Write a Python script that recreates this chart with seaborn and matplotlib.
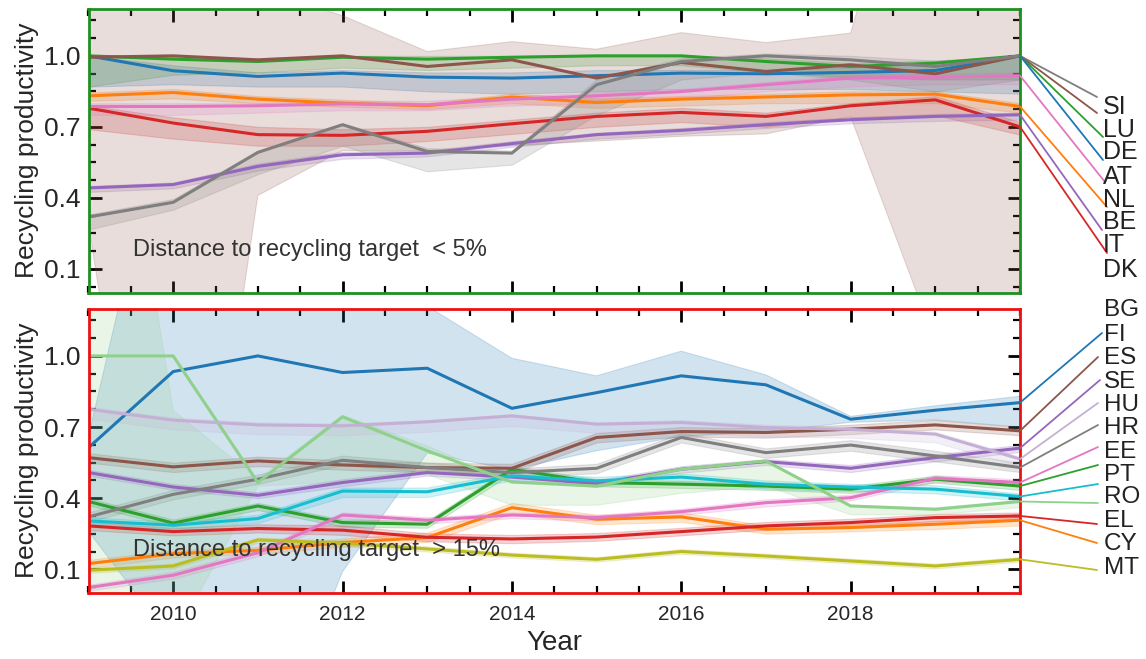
import numpy as np
import pandas as pd
import matplotlib
matplotlib.use("Agg")
import matplotlib.pyplot as plt
from matplotlib.ticker import FixedLocator, MultipleLocator
import seaborn as sns

years = list(range(2009, 2021))

# ---------------- top panel (distance < 5%) ----------------
top_countries = ["AT", "BE", "DE", "DK", "IT", "LU", "NL", "SI"]
top_colors = ["#1f77b4", "#ff7f0e", "#2ca02c", "#d62728", "#9467bd", "#8c564b", "#e377c2", "#7f7f7f"]

AT = [1.0, 0.937, 0.913, 0.927, 0.910, 0.906, 0.916, 0.927, 0.924, 0.930, 0.938, 1.0]
BE = [0.831, 0.845, 0.817, 0.800, 0.789, 0.826, 0.803, 0.817, 0.826, 0.835, 0.838, 0.786]
DE = [1.0, 0.986, 0.976, 0.994, 0.986, 0.994, 1.0, 1.0, 0.976, 0.955, 0.969, 1.0]
DK = [0.779, 0.716, 0.667, 0.664, 0.681, 0.713, 0.744, 0.761, 0.744, 0.789, 0.814, 0.700]
IT = [0.442, 0.456, 0.533, 0.582, 0.589, 0.629, 0.667, 0.685, 0.709, 0.730, 0.744, 0.751]
LU = [0.994, 1.0, 0.983, 1.0, 0.955, 0.983, 0.906, 0.972, 0.934, 0.962, 0.924, 1.0]
NL = [0.786, 0.786, 0.789, 0.797, 0.793, 0.817, 0.831, 0.849, 0.878, 0.906, 0.910, 0.916]
SI = [0.319, 0.381, 0.592, 0.709, 0.596, 0.589, 0.878, 0.976, 1.0, 0.983, 0.955, 1.0]

AT_lo = [0.87, 0.88, 0.87, 0.87, 0.85, 0.84, 0.85, 0.86, 0.86, 0.86, 0.85, 0.84]
AT_hi = [1.0, 0.96, 0.93, 0.94, 0.93, 0.93, 0.94, 0.94, 0.94, 0.95, 0.96, 1.0]
BE_lo = [0.81, 0.82, 0.80, 0.785, 0.775, 0.80, 0.78, 0.79, 0.80, 0.80, 0.80, 0.76]
BE_hi = [0.845, 0.86, 0.83, 0.815, 0.80, 0.84, 0.82, 0.83, 0.84, 0.85, 0.85, 0.80]
DE_lo = [0.87, 0.92, 0.93, 0.95, 0.94, 0.95, 0.96, 0.96, 0.93, 0.91, 0.90, 0.90]
DE_hi = [1.0, 1.0, 0.99, 1.0, 1.0, 1.0, 1.0, 1.0, 0.99, 0.97, 0.98, 1.0]
DK_lo = [0.69, 0.65, 0.62, 0.62, 0.64, 0.67, 0.70, 0.72, 0.70, 0.74, 0.75, 0.667]
DK_hi = [0.79, 0.74, 0.70, 0.69, 0.70, 0.73, 0.76, 0.78, 0.76, 0.80, 0.83, 0.72]
IT_lo = [0.425, 0.44, 0.515, 0.565, 0.575, 0.615, 0.65, 0.67, 0.695, 0.715, 0.725, 0.73]
IT_hi = [0.45, 0.465, 0.545, 0.595, 0.60, 0.64, 0.675, 0.695, 0.72, 0.74, 0.755, 0.76]
LU_lo = [0.29, -2.0, 0.41, 0.60, 0.60, 0.62, 0.64, 0.66, 0.67, 0.743, -0.21, -0.3]
LU_hi = [2.0, 2.5, 1.28, 1.17, 1.018, 1.06, 1.028, 1.098, 1.056, 1.096, 2.35, 2.0]
NL_lo = [0.75, 0.75, 0.76, 0.77, 0.77, 0.79, 0.80, 0.82, 0.85, 0.87, 0.88, 0.88]
NL_hi = [0.80, 0.80, 0.80, 0.81, 0.81, 0.83, 0.845, 0.86, 0.89, 0.92, 0.925, 0.93]
SI_lo = [0.266, 0.35, 0.50, 0.62, 0.512, 0.54, 0.75, 0.90, 0.93, 0.90, 0.85, 0.90]
SI_hi = [0.33, 0.395, 0.60, 0.715, 0.61, 0.60, 0.90, 0.99, 1.01, 1.0, 0.98, 1.0]

top_labels = ["SI", "LU", "DE", "AT", "NL", "BE", "IT", "DK"]

# ---------------- bottom panel (distance > 15%) ----------------
bot_countries = ["BG", "CY", "EE", "EL", "ES", "FI", "HR", "HU", "MT", "PT", "RO", "SE"]
bot_colors = ["#1f77b4", "#ff7f0e", "#2ca02c", "#d62728", "#9467bd", "#8c564b",
              "#e377c2", "#7f7f7f", "#bcbd22", "#17becf", "#8fd18a", "#c5b0d5"]

BG = [0.613, 0.934, 1.0, 0.930, 0.948, 0.779, 0.845, 0.916, 0.878, 0.733, 0.771, 0.803]
CY = [0.124, 0.166, 0.180, 0.213, 0.234, 0.360, 0.311, 0.321, 0.269, 0.276, 0.290, 0.307]
EE = [0.386, 0.295, 0.367, 0.297, 0.290, 0.522, 0.466, 0.459, 0.451, 0.438, 0.480, 0.451]
EL = [0.283, 0.259, 0.272, 0.265, 0.235, 0.228, 0.236, 0.259, 0.283, 0.297, 0.318, 0.325]
ES = [0.508, 0.447, 0.412, 0.466, 0.508, 0.489, 0.461, 0.522, 0.554, 0.526, 0.571, 0.611]
FI = [0.571, 0.532, 0.557, 0.540, 0.529, 0.526, 0.656, 0.681, 0.677, 0.691, 0.709, 0.684]
HR = [0.023, 0.075, 0.170, 0.329, 0.307, 0.329, 0.318, 0.343, 0.381, 0.402, 0.484, 0.466]
HU = [0.321, 0.416, 0.480, 0.560, 0.529, 0.508, 0.526, 0.656, 0.592, 0.624, 0.578, 0.529]
MT = [0.096, 0.114, 0.224, 0.210, 0.186, 0.160, 0.142, 0.175, 0.156, 0.135, 0.114, 0.142]
PT = [0.304, 0.286, 0.314, 0.430, 0.427, 0.494, 0.473, 0.489, 0.459, 0.447, 0.438, 0.407]
RO = [1.0, 1.0, 0.466, 0.743, 0.600, 0.468, 0.451, 0.522, 0.557, 0.367, 0.353, 0.386]
SE = [0.775, 0.729, 0.709, 0.705, 0.722, 0.747, 0.712, 0.719, 0.698, 0.690, 0.670, 0.565]

BG_lo = [0.26, -0.21, -0.8, 0.09, 0.59, 0.52, 0.60, 0.66, 0.68, 0.72, 0.73, 0.70]
BG_hi = [0.66, 2.2, 1.6, 1.45, 1.21, 0.99, 0.916, 1.02, 0.92, 0.745, 0.79, 0.83]
CY_lo = [0.105, 0.15, 0.165, 0.195, 0.215, 0.335, 0.29, 0.30, 0.25, 0.26, 0.27, 0.285]
CY_hi = [0.14, 0.18, 0.195, 0.23, 0.255, 0.38, 0.33, 0.34, 0.285, 0.29, 0.305, 0.32]
EE_lo = [0.37, 0.28, 0.35, 0.28, 0.275, 0.505, 0.45, 0.443, 0.435, 0.422, 0.465, 0.435]
EE_hi = [0.40, 0.31, 0.38, 0.31, 0.305, 0.535, 0.48, 0.473, 0.465, 0.452, 0.495, 0.465]
EL_lo = [0.265, 0.243, 0.255, 0.245, 0.218, 0.21, 0.22, 0.243, 0.267, 0.28, 0.302, 0.31]
EL_hi = [0.30, 0.275, 0.29, 0.285, 0.252, 0.245, 0.253, 0.275, 0.30, 0.313, 0.333, 0.34]
ES_lo = [0.495, 0.435, 0.40, 0.45, 0.495, 0.475, 0.447, 0.507, 0.54, 0.51, 0.555, 0.595]
ES_hi = [0.52, 0.46, 0.425, 0.48, 0.522, 0.50, 0.475, 0.535, 0.565, 0.54, 0.585, 0.625]
FI_lo = [0.55, 0.51, 0.535, 0.52, 0.51, 0.505, 0.635, 0.66, 0.655, 0.67, 0.69, 0.665]
FI_hi = [0.59, 0.55, 0.575, 0.56, 0.55, 0.545, 0.675, 0.70, 0.695, 0.71, 0.73, 0.70]
HR_lo = [0.01, 0.06, 0.155, 0.315, 0.293, 0.315, 0.305, 0.33, 0.365, 0.39, 0.47, 0.452]
HR_hi = [0.035, 0.09, 0.185, 0.34, 0.32, 0.34, 0.33, 0.355, 0.395, 0.415, 0.497, 0.48]
HU_lo = [0.30, 0.395, 0.46, 0.54, 0.51, 0.49, 0.505, 0.635, 0.57, 0.60, 0.555, 0.51]
HU_hi = [0.34, 0.435, 0.50, 0.58, 0.55, 0.525, 0.545, 0.675, 0.61, 0.645, 0.60, 0.55]
MT_lo = [0.085, 0.104, 0.212, 0.198, 0.175, 0.15, 0.132, 0.165, 0.146, 0.125, 0.104, 0.132]
MT_hi = [0.106, 0.124, 0.234, 0.222, 0.197, 0.17, 0.152, 0.185, 0.166, 0.145, 0.124, 0.152]
PT_lo = [0.285, 0.27, 0.295, 0.405, 0.405, 0.475, 0.455, 0.47, 0.44, 0.43, 0.42, 0.39]
PT_hi = [0.32, 0.30, 0.33, 0.445, 0.445, 0.51, 0.49, 0.505, 0.475, 0.46, 0.455, 0.42]
RO_lo = [-1.0, -0.2, 0.45, 0.47, 0.50, 0.37, 0.37, 0.42, 0.45, 0.33, 0.33, 0.36]
RO_hi = [3.0, 0.77, 0.48, 0.75, 0.62, 0.47, 0.46, 0.53, 0.56, 0.37, 0.36, 0.39]
SE_lo = [0.735, 0.69, 0.67, 0.665, 0.68, 0.705, 0.675, 0.68, 0.66, 0.655, 0.635, 0.535]
SE_hi = [0.785, 0.74, 0.72, 0.715, 0.73, 0.755, 0.72, 0.73, 0.71, 0.70, 0.68, 0.575]

bot_labels = ["BG", "FI", "ES", "SE", "HU", "HR", "EE", "PT", "RO", "EL", "CY", "MT"]

top_vals = {"AT": AT, "BE": BE, "DE": DE, "DK": DK, "IT": IT, "LU": LU, "NL": NL, "SI": SI}
top_band = {"AT": (AT_lo, AT_hi), "BE": (BE_lo, BE_hi), "DE": (DE_lo, DE_hi), "DK": (DK_lo, DK_hi),
            "IT": (IT_lo, IT_hi), "LU": (LU_lo, LU_hi), "NL": (NL_lo, NL_hi), "SI": (SI_lo, SI_hi)}
bot_vals = {"BG": BG, "CY": CY, "EE": EE, "EL": EL, "ES": ES, "FI": FI, "HR": HR, "HU": HU,
            "MT": MT, "PT": PT, "RO": RO, "SE": SE}
bot_band = {"BG": (BG_lo, BG_hi), "CY": (CY_lo, CY_hi), "EE": (EE_lo, EE_hi), "EL": (EL_lo, EL_hi),
            "ES": (ES_lo, ES_hi), "FI": (FI_lo, FI_hi), "HR": (HR_lo, HR_hi), "HU": (HU_lo, HU_hi),
            "MT": (MT_lo, MT_hi), "PT": (PT_lo, PT_hi), "RO": (RO_lo, RO_hi), "SE": (SE_lo, SE_hi)}

# ---------------- style ----------------
sns.set_style("ticks")
plt.rcParams["font.family"] = ["Liberation Sans", "DejaVu Sans"]

W, H = 1146, 659
fig = plt.figure(figsize=(W / 100, H / 100), dpi=100)


def px_axes(l, t, r, b):
    return fig.add_axes([l / W, 1 - b / H, (r - l) / W, (b - t) / H])


ax_top = px_axes(88.5, 8.5, 1020, 292.5)
ax_bot = px_axes(88.5, 308.5, 1020, 593)


def draw_panel(ax, countries, colors, vals, band, spine_color, note):
    df = pd.DataFrame([(c, y, v) for c in countries for y, v in zip(years, vals[c])],
                      columns=["country", "Year", "value"])
    pal = dict(zip(countries, colors))
    for c in countries:
        lo, hi = band[c]
        ax.fill_between(years, lo, hi, color=pal[c], alpha=0.2, linewidth=0.8)
    sns.lineplot(data=df, x="Year", y="value", hue="country", palette=pal,
                 hue_order=countries, linewidth=2.2, legend=False, ax=ax)
    ax.set_xlim(2009, 2020)
    ax.set_ylim(0.0, 1.2)
    ax.xaxis.set_major_locator(FixedLocator([2010, 2012, 2014, 2016, 2018]))
    ax.xaxis.set_minor_locator(MultipleLocator(0.5))
    ax.yaxis.set_major_locator(FixedLocator([0.1, 0.4, 0.7, 1.0]))
    ax.yaxis.set_minor_locator(MultipleLocator(0.075, offset=0.025))
    ax.set_yticklabels(["0.1", "0.4", "0.7", "1.0"])
    ax.tick_params(which="both", direction="in", top=True, right=True, color="black")
    ax.tick_params(which="major", length=9, width=2, labelsize=19, pad=6)
    ax.tick_params(which="minor", length=5, width=1.6)
    ax.tick_params(axis="x", labelsize=15, pad=9)
    for s in ax.spines.values():
        s.set_color(spine_color)
        s.set_linewidth(2)
    ax.set_ylabel("Recycling productivity", fontsize=19, labelpad=3)
    ax.text(0.048, 0.15, note, transform=ax.transAxes, fontsize=17, color="#333333",
            va="center", ha="left")
    return pal


pal_top = draw_panel(ax_top, top_countries, top_colors, top_vals, top_band, "#1f8f1f",
                     "Distance to recycling target  < 5%")
pal_bot = draw_panel(ax_bot, bot_countries, bot_colors, bot_vals, bot_band, "#ee1111",
                     "Distance to recycling target  > 15%")
ax_top.set_xlabel("")
ax_top.tick_params(axis="x", labelbottom=False)
ax_bot.set_xlabel("Year", fontsize=20, labelpad=4)

# ---------------- right-hand labels with leader lines ----------------
top_label_y = [107, 130, 152, 177, 200, 222, 245, 270]
top_end = [(1097, 97), (1097, 113), (1103, 137), (1103, 160), (1105, 182), (1107, 207),
           (1102, 230), (1107, 253)]
bot_label_y = [310, 335, 358, 382, 405, 428, 452, 475, 497, 521, 544, 568]
bot_end = [(1102, 333), (1098, 357), (1100, 380), (1098, 403), (1098, 425), (1098, 447),
           (1098, 465), (1098, 484), (1098, 503), (1097, 524), (1097, 543), (1097, 570)]

# leader lines: order of colours follows the last values (descending)
top_order = ["SI", "LU", "DE", "AT", "NL", "BE", "IT", "DK"]
bot_order = ["BG", "FI", "ES", "SE", "HU", "HR", "EE", "PT", "RO", "EL", "CY", "MT"]


def leaders(ax, order, vals, pal, ends):
    for c, (ex, ey) in zip(order, ends):
        ax.annotate("", xy=(2020, vals[c][-1]), xycoords="data",
                    xytext=(ex, H - ey), textcoords="figure pixels",
                    annotation_clip=False,
                    arrowprops=dict(arrowstyle="-", color=pal[c], lw=1.3,
                                    shrinkA=0, shrinkB=0))


leaders(ax_top, top_order, top_vals, pal_top, top_end)
leaders(ax_bot, bot_order, bot_vals, pal_bot, bot_end)

for lab, y in zip(top_labels, top_label_y):
    fig.text(1103 / W, 1 - y / H, lab, fontsize=18, va="center", ha="left", color="#222222")
for lab, y in zip(bot_labels, bot_label_y):
    fig.text(1104 / W, 1 - y / H, lab, fontsize=17.5, va="center", ha="left", color="#222222")

fig.savefig("out.png", dpi=100)
